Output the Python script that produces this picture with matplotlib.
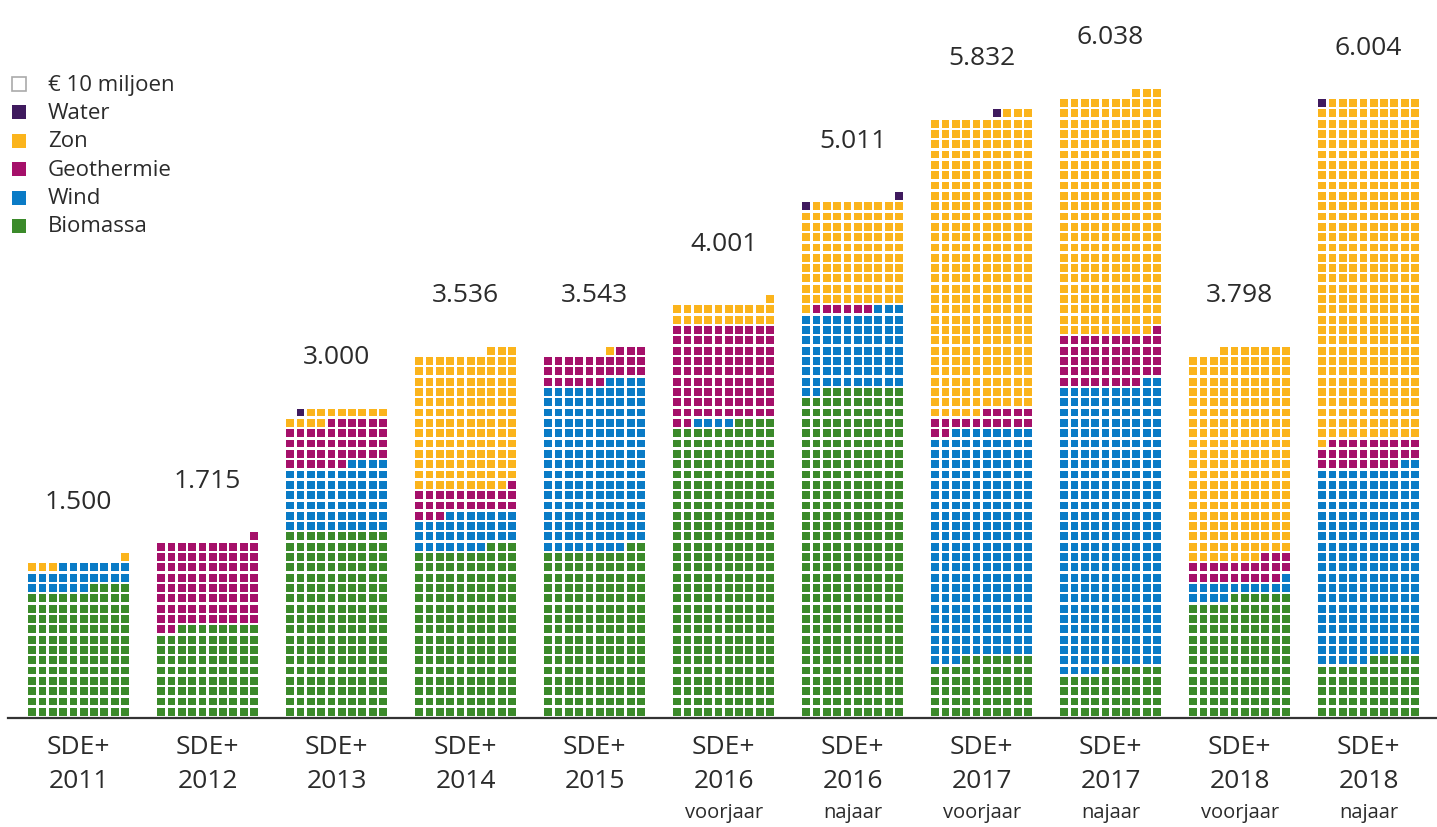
import matplotlib
matplotlib.use('Agg')
import matplotlib.pyplot as plt
from matplotlib.patches import Rectangle
from matplotlib.collections import PatchCollection

plt.rcParams['font.family'] = ['Open Sans', 'DejaVu Sans']

# each square = EUR 10 million
periods = ['2011', '2012', '2013', '2014', '2015', '2016', '2016', '2017', '2017', '2018', '2018']
rounds = ['', '', '', '', '', 'voorjaar', 'najaar', 'voorjaar', 'najaar', 'voorjaar', 'najaar']
totals = [1500, 1715, 3000, 3536, 3543, 4001, 5011, 5832, 6038, 3798, 6004]

biomassa   = [124, 88, 180, 163, 162, 284, 318, 57, 46, 116, 55]
wind       = [23, 0, 64, 34, 162, 4, 75, 221, 276, 15, 187]
geothermie = [0, 83, 42, 24, 29, 92, 6, 17, 49, 22, 27]
zon        = [4, 0, 12, 132, 1, 21, 100, 288, 232, 204, 330]
water      = [0, 0, 1, 0, 0, 0, 2, 1, 0, 0, 1]

categories = ['Biomassa', 'Wind', 'Geothermie', 'Zon', 'Water']
colors = {'Biomassa': '#3b8a2a', 'Wind': '#0a7bc6', 'Geothermie': '#a5106a',
          'Zon': '#fbb41c', 'Water': '#3f1a5e'}
series = {'Biomassa': biomassa, 'Wind': wind, 'Geothermie': geothermie,
          'Zon': zon, 'Water': water}

ncols = 10
step = 12.5      # bar pitch in cells
gap = 0.24       # white space around a square
px = 10.32       # pixels per cell

fig = plt.figure(figsize=(14.37, 8.28), dpi=100)
ax = fig.add_axes([0, 0, 1, 1])
ax.set_xlim(-27 / px, (1437 - 27) / px)
ax.set_ylim(-(828 - 718) / px, 718 / px)
ax.axis('off')

text_color = '#2b2b2b'

for i in range(len(periods)):
    x0 = i * step
    patches, fc = [], []
    k = 0
    for cat in categories:
        for _ in range(series[cat][i]):
            row, pos = divmod(k, ncols)
            col = ncols - 1 - pos   # rows fill right to left
            patches.append(Rectangle((x0 + col + gap / 2, row + gap / 2), 1 - gap, 1 - gap))
            fc.append(colors[cat])
            k += 1
    ax.add_collection(PatchCollection(patches, facecolor=fc, edgecolor='none'))

    top = -(-k // ncols)
    label = f"{totals[i]:,}".replace(',', '.')
    ax.text(x0 + ncols / 2, top + 4.9, label, ha='center', va='center',
            fontsize=19, color=text_color)

    ax.text(x0 + ncols / 2, -2.9, 'SDE+', ha='center', va='center', fontsize=19, color=text_color)
    ax.text(x0 + ncols / 2, -6.2, periods[i], ha='center', va='center', fontsize=19, color=text_color)
    if rounds[i]:
        ax.text(x0 + ncols / 2, -9.2, rounds[i], ha='center', va='center', fontsize=14.5, color=text_color)

ax.axhline(-0.1, xmin=8 / 1437, xmax=1, color='#333333', lw=1.6)

# legend
legend_items = [('€ 10 miljoen', None), ('Water', colors['Water']), ('Zon', colors['Zon']),
                ('Geothermie', colors['Geothermie']), ('Wind', colors['Wind']),
                ('Biomassa', colors['Biomassa'])]
ly = (718 - 85) / px
lx = (19 - 27) / px
sq = 1.35
for name, c in legend_items:
    if c is None:
        ax.add_patch(Rectangle((lx - sq / 2, ly - sq / 2), sq, sq, facecolor='white',
                               edgecolor='#aaaaaa', lw=1.2))
    else:
        ax.add_patch(Rectangle((lx - sq / 2, ly - sq / 2), sq, sq, facecolor=c, edgecolor='none'))
    ax.text((48 - 27) / px, ly, name, ha='left', va='center', fontsize=16, color=text_color)
    ly -= 28.4 / px

fig.savefig('out.png', dpi=100)
